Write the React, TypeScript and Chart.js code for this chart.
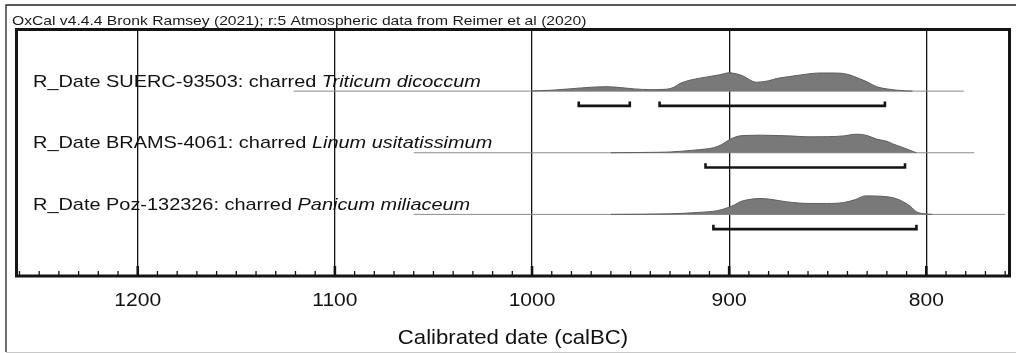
import React, { useEffect, useRef } from 'react';
import { Chart, registerables } from 'chart.js';

Chart.register(...registerables);

const headerText = 'OxCal v4.4.4 Bronk Ramsey (2021); r:5 Atmospheric data from Reimer et al (2020)';
const axisTitle = 'Calibrated date (calBC)';
const majorTicks = [1200, 1100, 1000, 900, 800];

const labelsPlain = ['R_Date SUERC-93503: charred ', 'R_Date BRAMS-4061: charred ', 'R_Date Poz-132326: charred '];
const labelsItalic = ['Triticum dicoccum', 'Linum usitatissimum', 'Panicum miliaceum'];
const rowLevels = [3, 2, 1];

// SUERC-93503
const dates1 = [1000, 990, 980, 970, 962, 955, 948, 940, 932, 928, 925, 920, 911, 905, 900, 894, 886, 880, 876, 870, 864, 854, 846, 840, 834, 830, 825, 820, 815, 807];
const prob1 = [0.01, 0.05, 0.13, 0.21, 0.24, 0.19, 0.12, 0.08, 0.1, 0.21, 0.41, 0.59, 0.77, 0.88, 0.99, 0.86, 0.48, 0.56, 0.68, 0.78, 0.87, 0.98, 0.98, 0.91, 0.68, 0.5, 0.23, 0.12, 0.05, 0];
// BRAMS-4061
const dates2 = [960, 940, 930, 918, 912, 908, 904, 900, 896, 890, 884, 875, 867, 860, 850, 842, 836, 833, 830, 825, 820, 817, 812, 807, 805];
const prob2 = [0, 0.02, 0.04, 0.14, 0.2, 0.27, 0.43, 0.7, 0.88, 0.94, 0.95, 0.93, 0.9, 0.86, 0.87, 0.91, 1.0, 0.99, 0.93, 0.73, 0.62, 0.48, 0.29, 0.08, 0];
// Poz-132326
const dates3 = [960, 930, 915, 906, 900, 897, 894, 890, 885, 880, 871, 859, 850, 842, 836, 831, 823, 815, 808, 805, 800, 797];
const prob3 = [0, 0.03, 0.11, 0.2, 0.39, 0.53, 0.7, 0.8, 0.86, 0.83, 0.68, 0.59, 0.59, 0.64, 0.8, 1.0, 0.98, 0.84, 0.43, 0.14, 0.02, 0];

const baseline1 = [1121, 781];
const baseline2 = [1060, 775.7];
const baseline3 = [1060, 760];

const ranges1 = [[976.3, 950.4], [935.3, 821]];
const ranges2 = [[912, 810.8]];
const ranges3 = [[908, 805]];

const X_MIN = 757.8;
const X_MAX = 1261.5;
const PEAK = 0.3;
const BRACKET_OFFSET = 0.24;
const BRACKET_TICK = 0.07;

const FONT = '"Liberation Sans", Arial, Helvetica, sans-serif';
const STRETCH = 1.16;

function drawStretched(ctx: CanvasRenderingContext2D, text: string, x: number, y: number, font: string, align: CanvasTextAlign, sx: number) {
  ctx.save();
  ctx.translate(x, y);
  ctx.scale(sx, 1);
  ctx.font = font;
  ctx.textAlign = align;
  ctx.textBaseline = 'alphabetic';
  ctx.fillText(text, 0, 0);
  ctx.restore();
}

export default function App() {
  const canvasRef = useRef<HTMLCanvasElement | null>(null);

  useEffect(() => {
    const canvas = canvasRef.current;
    if (!canvas) return;

    const rows = [
      { dates: dates1, prob: prob1, base: baseline1, ranges: ranges1 },
      { dates: dates2, prob: prob2, base: baseline2, ranges: ranges2 },
      { dates: dates3, prob: prob3, base: baseline3, ranges: ranges3 },
    ];

    const datasets: any[] = [];
    rows.forEach((r, i) => {
      const lvl = rowLevels[i];
      datasets.push({
        data: r.dates.map((d, j) => ({ x: d, y: lvl + r.prob[j] * PEAK })),
        showLine: true,
        fill: { value: lvl },
        backgroundColor: '#797979',
        borderColor: '#5e5e5e',
        borderWidth: 1,
        pointRadius: 0,
        cubicInterpolationMode: 'monotone',
      });
      datasets.push({
        data: [{ x: r.base[0], y: lvl }, { x: r.base[1], y: lvl }],
        showLine: true,
        fill: false,
        borderColor: '#8c8c8c',
        borderWidth: 1,
        pointRadius: 0,
      });
      r.ranges.forEach((rg) => {
        const yb = lvl - BRACKET_OFFSET;
        datasets.push({
          data: [
            { x: rg[0], y: yb + BRACKET_TICK },
            { x: rg[0], y: yb },
            { x: rg[1], y: yb },
            { x: rg[1], y: yb + BRACKET_TICK },
          ],
          showLine: true,
          fill: false,
          borderColor: '#141414',
          borderWidth: 2.6,
          borderCapStyle: 'butt',
          borderJoinStyle: 'miter',
          pointRadius: 0,
        });
      });
    });

    const framePlugin = {
      id: 'oxcalFrame',
      beforeDraw(chart: any) {
        const ctx = chart.ctx;
        ctx.save();
        ctx.fillStyle = '#ffffff';
        ctx.fillRect(0, 0, chart.width, chart.height);
        ctx.strokeStyle = '#222';
        ctx.lineWidth = 1.3;
        ctx.beginPath();
        ctx.moveTo(6, 352);
        ctx.lineTo(6, 5);
        ctx.lineTo(1016, 5);
        ctx.stroke();
        ctx.strokeStyle = '#c8c8c8';
        ctx.lineWidth = 1;
        ctx.beginPath();
        ctx.moveTo(6, 352.5);
        ctx.lineTo(1016, 352.5);
        ctx.stroke();
        ctx.fillStyle = '#1a1a1a';
        drawStretched(ctx, headerText, 12, 25, `13.5px ${FONT}`, 'left', STRETCH);
        ctx.restore();
      },
      afterDatasetsDraw(chart: any) {
        const ctx = chart.ctx;
        const ys = chart.scales.y;
        ctx.save();
        ctx.fillStyle = '#111';
        rowLevels.forEach((lvl, i) => {
          const y = ys.getPixelForValue(lvl) - 4.3;
          ctx.save();
          ctx.translate(33, y);
          ctx.scale(1.2, 1);
          ctx.textBaseline = 'alphabetic';
          ctx.font = `16.6px ${FONT}`;
          ctx.fillText(labelsPlain[i], 0, 0);
          const w = ctx.measureText(labelsPlain[i]).width;
          ctx.font = `italic 16.6px ${FONT}`;
          ctx.fillText(labelsItalic[i], w, 0);
          ctx.restore();
        });
        ctx.restore();
      },
      afterDraw(chart: any) {
        const ctx = chart.ctx;
        const xs = chart.scales.x;
        const { left, right, top, bottom } = chart.chartArea;
        ctx.save();
        ctx.strokeStyle = '#141414';
        for (let v = 760; v <= 1260; v += 10) {
          const px = xs.getPixelForValue(v);
          const major = majorTicks.includes(v);
          ctx.lineWidth = major ? 2.6 : 1.3;
          ctx.beginPath();
          ctx.moveTo(px, bottom);
          ctx.lineTo(px, bottom - (major ? 10 : 5));
          ctx.stroke();
        }
        ctx.lineWidth = 3;
        ctx.strokeRect(left, top, right - left, bottom - top);
        ctx.fillStyle = '#111';
        xs.ticks.forEach((t: any) => {
          drawStretched(ctx, String(t.value), xs.getPixelForValue(t.value), 306, `18.8px ${FONT}`, 'center', 1.12);
        });
        drawStretched(ctx, axisTitle, (left + right) / 2, 344.3, `19.8px ${FONT}`, 'center', 1.12);
        ctx.restore();
      },
    };

    const chart = new Chart(canvas, {
      type: 'scatter',
      data: { datasets },
      options: {
        animation: false,
        responsive: true,
        maintainAspectRatio: false,
        layout: { padding: { left: 16.5, right: 6.5, top: 29.5, bottom: 0 } },
        plugins: { legend: { display: false }, tooltip: { enabled: false }, title: { display: false } },
        scales: {
          x: {
            type: 'linear',
            reverse: true,
            min: X_MIN,
            max: X_MAX,
            z: 1,
            afterBuildTicks: (scale: any) => {
              scale.ticks = majorTicks.map((v) => ({ value: v }));
            },
            afterFit: (scale: any) => {
              scale.height = 77;
            },
            border: { display: false },
            grid: { color: '#141414', lineWidth: 1.3, drawTicks: false },
            ticks: { display: false },
            title: { display: false },
          },
          y: { type: 'linear', min: 0, max: 4, display: false },
        },
      },
      plugins: [framePlugin],
    });

    return () => chart.destroy();
  }, []);

  return (
    <div style={{ position: 'absolute', left: 0, top: 0, width: 1016, height: 353 }}>
      <canvas ref={canvasRef} />
    </div>
  );
}
